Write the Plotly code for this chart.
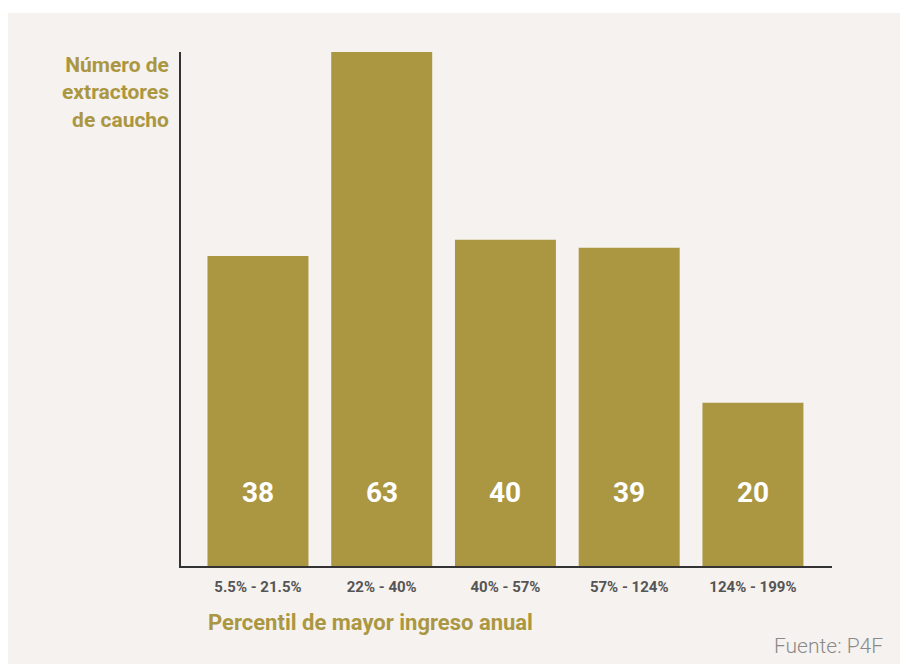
import plotly.graph_objects as go

categories = ["5.5% - 21.5%", "22% - 40%", "40% - 57%", "57% - 124%", "124% - 199%"]
values = [38, 63, 40, 39, 20]
y_title = "Número de<br>extractores<br>de caucho"
x_title = "Percentil de mayor ingreso anual"
source = "Fuente: P4F"

GOLD = "#ab9742"
BG = "#f6f2ef"
OFF = 8  # page body margin
W, H = 900, 656
# plot area in screen pixels: x 181..832, y 52..566
ML, MR, MT, MB = 181 - OFF, W - (832 - OFF), 52 - OFF, H - (566 - OFF)
PW, PH = W - ML - MR, H - MT - MB

def px2x(px):
    return (px - OFF - ML) / PW

def py2y(py):
    return (H - MB - (py - OFF)) / PH

idx = list(range(len(categories)))

fig = go.Figure()
fig.add_trace(go.Bar(
    x=idx, y=values, width=0.816,
    marker=dict(color=GOLD, line=dict(width=0)),
    hoverinfo="skip",
))

for i, v in zip(idx, values):
    fig.add_annotation(x=i, y=9, xref="x", yref="y", text=f"<b>{v}</b>",
                       showarrow=False,
                       font=dict(family="Roboto", size=28, color="white"))

fig.add_shape(type="rect", xref="paper", yref="paper",
              x0=px2x(0), x1=px2x(W + 40), y0=py2y(H + 40), y1=py2y(13),
              fillcolor=BG, line=dict(width=0), layer="below")

fig.add_annotation(xref="paper", yref="paper", x=px2x(171), y=py2y(51),
                   xanchor="right", yanchor="top", align="right",
                   text=f"<b>{y_title}</b>", showarrow=False,
                   font=dict(family="Roboto", size=21, color=GOLD))

fig.add_annotation(xref="paper", yref="paper", x=px2x(206), y=py2y(622),
                   xanchor="left", yanchor="middle",
                   text=f"<b>{x_title}</b>", showarrow=False,
                   font=dict(family="Roboto", size=22, color=GOLD))

fig.add_annotation(xref="paper", yref="paper", x=px2x(885), y=py2y(646),
                   xanchor="right", yanchor="middle",
                   text=source, showarrow=False,
                   font=dict(family="Roboto", size=21, weight=300, color="#8a8a8a"))

fig.update_layout(
    width=W, height=H,
    margin=dict(l=ML, r=MR, t=MT, b=MB, pad=0),
    paper_bgcolor="white", plot_bgcolor="rgba(0,0,0,0)",
    showlegend=False,
    xaxis=dict(range=[-0.622, 4.639], tickmode="array", tickvals=idx,
               ticktext=[f"<b>{c}</b>" for c in categories],
               tickfont=dict(family="Roboto", size=15, color="#555555"),
               ticks="outside", ticklen=6, tickcolor="rgba(0,0,0,0)",
               showgrid=False, zeroline=False, showline=True,
               linecolor="#333333", linewidth=1.5),
    yaxis=dict(range=[0, 63], showticklabels=False, showgrid=False,
               zeroline=False, showline=True, linecolor="#333333",
               linewidth=1.5, ticks=""),
)

fig.write_html("out.html")
